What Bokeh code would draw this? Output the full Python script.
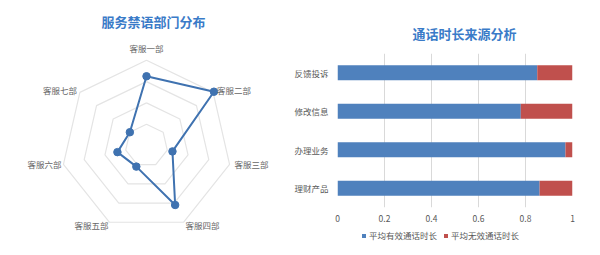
import numpy as np
from bokeh.plotting import figure
from bokeh.models import Range1d, FactorRange, Label, Legend, LegendItem, FixedTicker, ColumnDataSource
from bokeh.layouts import row, column
from bokeh.embed import file_html
from bokeh.resources import INLINE
from bokeh.core.properties import value

# ---------------- data ----------------
departments = ["客服一部", "客服二部", "客服三部", "客服四部", "客服五部", "客服六部", "客服七部"]
violations = [3.25, 4.05, 1.25, 3.1, 1.1, 1.4, 1.0]
ring_levels = [1, 2, 3, 4]

call_types = ["反馈投诉", "修改信息", "办理业务", "理财产品"]
valid_share = [0.85, 0.78, 0.97, 0.86]
invalid_share = [0.15, 0.22, 0.03, 0.14]
x_ticks = [0, 0.2, 0.4, 0.6, 0.8, 1]
series_names = ["平均有效通话时长", "平均无效通话时长"]

radar_title = "服务禁语部门分布"
bar_title = "通话时长来源分析"

FONT = "Noto Sans CJK SC"
TITLE_COLOR = "#3a7bc8"
LINE_BLUE = "#3f72b0"
BAR_BLUE = "#4f81bd"
BAR_RED = "#c0504d"
BAR_COLORS = [BAR_BLUE, BAR_RED]

# ---------------- radar ----------------
S = 21.3          # pixels per value unit
CX, CY = 146, 145 # centre in pixels
LW, H = 291, 255

pr = figure(width=LW, height=H, output_backend="svg", toolbar_location=None,
            x_range=Range1d(-CX / S, (LW - CX) / S),
            y_range=Range1d(-(H - CY) / S, CY / S),
            min_border=0, min_border_left=0, min_border_right=0,
            min_border_top=0, min_border_bottom=0, frame_align=False)
pr.axis.visible = False
pr.grid.visible = False
pr.outline_line_color = None

n = len(departments)
ang = np.arange(n) * 2 * np.pi / n
for lv in ring_levels:
    xs = list(lv * np.sin(ang)) + [lv * np.sin(ang[0])]
    ys = list(lv * np.cos(ang)) + [lv * np.cos(ang[0])]
    pr.line(xs, ys, line_color="#e4e4e4", line_width=1.2)

vals = np.array(violations)
px = vals * np.sin(ang)
py = vals * np.cos(ang)
pr.line(list(px) + [px[0]], list(py) + [py[0]], line_color=LINE_BLUE, line_width=2)
pr.scatter(px, py, size=7.5, fill_color=LINE_BLUE, line_color=LINE_BLUE)

outer = max(ring_levels)
# label pixel offsets relative to outer vertex (styling)
offsets = [(0, 12), (4, 2), (5, 0), (2, -3), (-1, -3), (-2, 0), (-3, 2)]
groups = {}
for i in range(n):
    s = np.sin(ang[i])
    align = "center" if abs(s) < 0.1 else ("left" if s > 0 else "right")
    dx, dy = offsets[i]
    lx = outer * s + dx / S
    ly = outer * np.cos(ang[i]) + dy / S
    g = groups.setdefault(align, ([], [], []))
    g[0].append(lx); g[1].append(ly); g[2].append(departments[i])
for align, (lx, ly, tx) in groups.items():
    pr.text(x=lx, y=ly, text=tx, text_align=align, text_baseline="middle",
            text_font=value(FONT), text_font_size="8.5px", text_color="#666666")

pr.add_layout(Label(x=153, y=H - 21, x_units="screen", y_units="screen", text=radar_title,
                    text_align="center", text_baseline="middle", text_font=FONT,
                    text_font_size="13px", text_font_style="bold", text_color=TITLE_COLOR))

# ---------------- stacked bar ----------------
RW = 600 - LW
LH = 25            # height of legend strip
BH = H - LH        # height of bar figure
pb = figure(width=RW, height=BH, output_backend="svg", toolbar_location=None,
            title=bar_title,
            y_range=FactorRange(factors=call_types[::-1], range_padding=0),
            x_range=Range1d(0, 1), frame_align=False,
            min_border_left=46, min_border_right=28, min_border_top=53, min_border_bottom=BH - 207)
pb.title.align = "left"
pb.title.offset = 75
pb.title.standoff = 22
pb.title.text_font = FONT
pb.title.text_font_size = "13px"
pb.title.text_font_style = "bold"
pb.title.text_color = TITLE_COLOR
pb.outline_line_color = None
pb.ygrid.visible = False
pb.xgrid.grid_line_color = "#d9d9d9"
pb.xgrid.grid_line_width = 1
pb.xaxis.ticker = FixedTicker(ticks=x_ticks)
pb.xaxis.major_label_overrides = {0: "0", 1: "1"}
for ax in (pb.xaxis[0], pb.yaxis[0]):
    ax.axis_line_color = None
    ax.major_tick_line_color = None
    ax.minor_tick_line_color = None
    ax.major_tick_out = 0
    ax.major_tick_in = 0
    ax.minor_tick_out = 0
    ax.minor_tick_in = 0
    ax.major_label_text_font = FONT
    ax.major_label_text_font_size = "8.5px"
    ax.major_label_text_color = "#595959"
pb.xaxis.major_label_standoff = 7
pb.yaxis.major_label_standoff = 9

src = ColumnDataSource(dict(cat=call_types, valid=valid_share, invalid=invalid_share))
pb.hbar_stack(["valid", "invalid"], y="cat", height=0.39, source=src,
              color=BAR_COLORS, line_color=None)

# ---------------- legend strip ----------------
lf = figure(width=RW, height=LH, output_backend="svg", toolbar_location=None,
            x_range=Range1d(0, RW), y_range=Range1d(0, LH), frame_align=False,
            min_border=0, min_border_left=0, min_border_right=0,
            min_border_top=0, min_border_bottom=0)
lf.axis.visible = False
lf.grid.visible = False
lf.outline_line_color = None
# legend swatch renderers: same series, zero-height bars (only their legend swatches show)
swatches = lf.hbar_stack(["valid", "invalid"], y=0, height=0, source=src,
                         color=BAR_COLORS, line_color=None)
items = [LegendItem(label=name, renderers=[r]) for name, r in zip(series_names, swatches)]
legend = Legend(items=items, location=(70, 14), orientation="horizontal",
                glyph_width=5, glyph_height=5, label_standoff=3, spacing=6,
                padding=0, margin=0, border_line_color=None, background_fill_alpha=0,
                label_text_font=FONT, label_text_font_size="8.5px",
                label_text_color="#595959", label_height=10)
lf.add_layout(legend)

layout = row(pr, column(pb, lf))
open("out.html", "w").write(file_html(layout, INLINE))
